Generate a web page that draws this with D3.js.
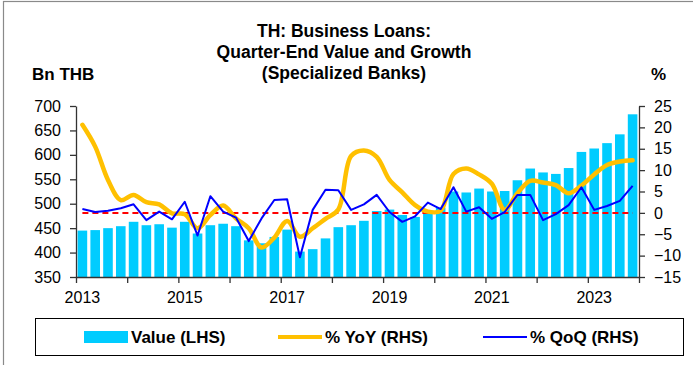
<!DOCTYPE html>
<html>
<head>
<meta charset="utf-8">
<script src="https://cdn.jsdelivr.net/npm/d3@7"></script>
<style>
  body { margin: 0; background: #fff; }
  svg { display: block; }
  text { font-family: "Liberation Sans", Arial, sans-serif; fill: #000; }
</style>
</head>
<body>
<svg id="chart" width="693" height="365"></svg>
<script>
// Quarter-end business loans of specialized banks, 2013Q1 - 2023Q4
const years = d3.range(2013, 2024);
const quarters = years.flatMap(y => ["Q1", "Q2", "Q3", "Q4"].map(q => y + q));

// Outstanding value, Bn THB
const loanValue = [
  445, 446, 450, 454,
  463, 456, 458, 451,
  463, 439, 456, 459,
  454, 425, 419, 432,
  447, 402, 407, 429,
  452, 456, 465, 485,
  488, 477, 473, 482,
  492, 525, 523, 531,
  525, 526, 548, 572,
  564, 561, 573, 606,
  613, 624, 642, 683
];

// Year-on-year growth, %
const yoyGrowth = [
  20.6, 15.5, 7.7, 3.0,
  4.2, 2.5, 2.0, -0.1,
  -0.3, -3.6, -0.5, 1.7,
  -1.3, -3.6, -8.1, -5.8,
  -1.9, -5.6, -3.6, -1.4,
  0.8, 13.3, 14.6, 13.1,
  7.7, 4.8, 1.8, 0.3,
  0.5, 9.1, 10.4, 9.0,
  6.8, 0.7, 4.6, 7.5,
  7.1, 6.5, 4.6, 6.4,
  9.0, 11.2, 12.0, 12.3
];

// Quarter-on-quarter growth, %
const qoqGrowth = [
  0.9, 0.2, 0.5, 1.1,
  2.0, -1.7, 0.3, -1.5,
  2.6, -5.3, 3.9, 0.3,
  -1.1, -6.6, -1.3, 3.0,
  3.2, -10.4, 0.7, 5.4,
  5.3, 0.7, 2.0, 4.2,
  0.2, -2.1, -0.8, 2.4,
  0.9, 6.0, 0.3, 1.3,
  -1.4, 0.2, 4.2, 4.2,
  -1.7, -0.3, 1.8, 6.0,
  0.7, 1.6, 2.8, 6.3
];

const leftTicks = [350, 400, 450, 500, 550, 600, 650, 700];
const rightTicks = [-15, -10, -5, 0, 5, 10, 15, 20, 25];
const yearLabels = ["2013", "2015", "2017", "2019", "2021", "2023"];
const titleLines = ["TH: Business Loans:", "Quarter-End Value and Growth", "(Specialized Banks)"];
const legendItems = [
  { label: "Value (LHS)", kind: "bar" },
  { label: "% YoY (RHS)", kind: "yoy" },
  { label: "% QoQ (RHS)", kind: "qoq" }
];

const COLORS = { bar: "#00CCFF", yoy: "#FFC000", qoq: "#0000FF", zero: "#FF0000", axis: "#333" };

const svg = d3.select("#chart");

// outer frame
svg.append("rect")
  .attr("x", 3.5).attr("y", 1.5).attr("width", 720).attr("height", 400)
  .attr("fill", "none").attr("stroke", "#8a8a8a").attr("stroke-width", 1.2);

const plot = { left: 76, right: 639, top: 106, bottom: 277 };

const x = d3.scaleBand().domain(quarters)
  .range([plot.left, plot.right]).paddingInner(0.25).paddingOuter(0.125);
const bw = x.bandwidth();
const cx = q => x(q) + bw / 2;

// boundary scale for the year tick marks (between categories)
const xb = d3.scaleLinear().domain([0, quarters.length]).range([plot.left, plot.right]);

const yL = d3.scaleLinear().domain([350, 700]).range([plot.bottom, plot.top]);
const yR = d3.scaleLinear().domain([-15, 25]).range([plot.bottom, plot.top]);

// bars
svg.append("g").selectAll("rect")
  .data(quarters.map((q, i) => ({ q, v: loanValue[i] })))
  .join("rect")
  .attr("x", d => x(d.q))
  .attr("width", bw)
  .attr("y", d => yL(d.v))
  .attr("height", d => yL(350) - yL(d.v))
  .attr("fill", COLORS.bar);

// zero reference on the growth scale
svg.append("line")
  .attr("x1", cx(quarters[0])).attr("x2", cx(quarters[quarters.length - 1]))
  .attr("y1", yR(0)).attr("y2", yR(0))
  .attr("stroke", COLORS.zero).attr("stroke-width", 2)
  .attr("stroke-dasharray", "6,4");

const yoyLine = d3.line()
  .x((d, i) => cx(quarters[i]))
  .y(d => yR(d))
  .curve(d3.curveCatmullRom.alpha(0.5));

svg.append("path")
  .attr("d", yoyLine(yoyGrowth))
  .attr("fill", "none").attr("stroke", COLORS.yoy)
  .attr("stroke-width", 4.5).attr("stroke-linejoin", "round").attr("stroke-linecap", "round");

const qoqLine = d3.line()
  .x((d, i) => cx(quarters[i]))
  .y(d => yR(d));

svg.append("path")
  .attr("d", qoqLine(qoqGrowth))
  .attr("fill", "none").attr("stroke", COLORS.qoq)
  .attr("stroke-width", 2).attr("stroke-linejoin", "round");

// axes
function styleAxis(g) {
  g.selectAll("path.domain").attr("stroke", COLORS.axis).attr("stroke-width", 1.3);
  g.selectAll(".tick line").attr("stroke", COLORS.axis).attr("stroke-width", 1.3);
  g.selectAll(".tick text").attr("font-size", 16).attr("fill", "#000")
    .attr("font-family", "'Liberation Sans', Arial, sans-serif");
}

svg.append("g")
  .attr("transform", `translate(${plot.left},0)`)
  .call(d3.axisLeft(yL).tickValues(leftTicks).tickSize(6).tickSizeOuter(0).tickPadding(9))
  .call(styleAxis);

svg.append("g")
  .attr("transform", `translate(${plot.right},0)`)
  .call(d3.axisRight(yR).tickValues(rightTicks).tickSize(6).tickSizeOuter(0).tickPadding(9))
  .call(styleAxis);

svg.append("g")
  .attr("transform", `translate(0,${plot.bottom})`)
  .call(d3.axisBottom(xb).tickValues(d3.range(0, quarters.length + 1, 4)).tickFormat("").tickSize(6).tickSizeOuter(0))
  .call(styleAxis);

// year labels centred on the first quarter of every other year
svg.append("g").selectAll("text")
  .data(yearLabels)
  .join("text")
  .attr("x", d => cx(d + "Q1"))
  .attr("y", 303)
  .attr("text-anchor", "middle")
  .attr("font-size", 16)
  .text(d => d);

// title and unit labels
svg.append("g").selectAll("text")
  .data(titleLines)
  .join("text")
  .attr("x", 344)
  .attr("y", (d, i) => 37 + i * 21)
  .attr("text-anchor", "middle")
  .attr("font-size", 17.5).attr("font-weight", "bold")
  .text(d => d);

svg.append("text").attr("x", 32).attr("y", 80)
  .attr("font-size", 17).attr("font-weight", "bold").text("Bn THB");
svg.append("text").attr("x", 651).attr("y", 80)
  .attr("font-size", 17).attr("font-weight", "bold").text("%");

// legend
const legend = svg.append("g");
legend.append("rect")
  .attr("x", 35.5).attr("y", 318.5).attr("width", 648).attr("height", 37)
  .attr("fill", "#fff").attr("stroke", "#000").attr("stroke-width", 1);

const legendX = [84, 278, 483];
const ly = 337;
legendItems.forEach((it, i) => {
  const g = legend.append("g").attr("transform", `translate(${legendX[i]},${ly})`);
  if (it.kind === "bar") {
    g.append("rect").attr("x", 0).attr("y", -6).attr("width", 44).attr("height", 12)
      .attr("fill", COLORS.bar);
  } else {
    g.append("line").attr("x1", 0).attr("x2", 44).attr("y1", 0).attr("y2", 0)
      .attr("stroke", COLORS[it.kind]).attr("stroke-width", it.kind === "yoy" ? 4 : 2);
  }
  g.append("text").attr("x", 47).attr("y", 6)
    .attr("font-size", 17).attr("font-weight", "bold").text(it.label);
});
</script>
</body>
</html>
